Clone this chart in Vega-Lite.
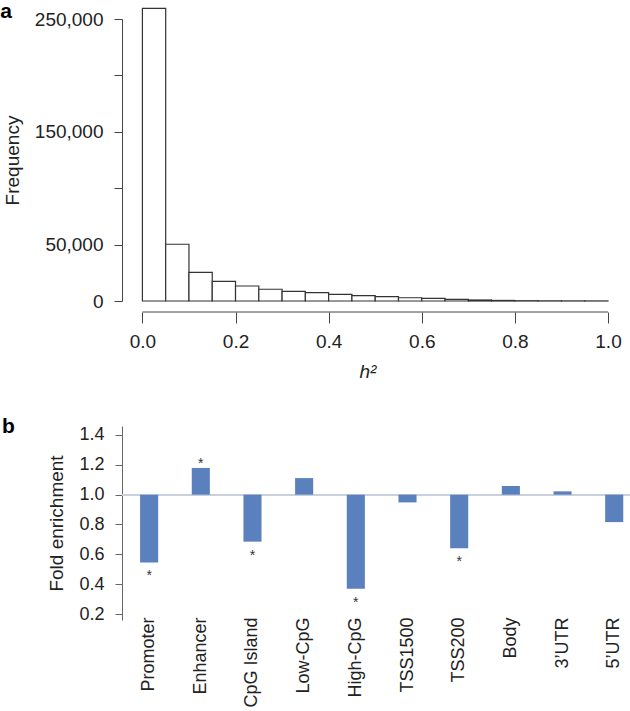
{
  "$schema": "https://vega.github.io/schema/vega-lite/v6.json",
  "background": "white",
  "padding": {"left": 0, "top": 0, "right": 0, "bottom": 0},
  "spacing": 34,
  "config": {
    "font": "Liberation Sans",
    "view": {"stroke": null},
    "axis": {"labelColor": "#222", "titleColor": "#222", "domainColor": "#444", "tickColor": "#444", "grid": false, "titleFontWeight": "normal", "labelFont": "Liberation Sans", "titleFont": "Liberation Sans", "labelOverlap": false}
  },
  "vconcat": [
    {
      "width": 491,
      "height": 282,
      "title": {"text": "a", "anchor": "start", "frame": "bounds", "fontSize": 21, "fontWeight": "bold", "color": "#000", "offset": -14, "dx": -3},
      "data": {"values": [
        {"bin_start": 0.00, "bin_end": 0.05, "count": 259500},
        {"bin_start": 0.05, "bin_end": 0.10, "count": 50300},
        {"bin_start": 0.10, "bin_end": 0.15, "count": 25400},
        {"bin_start": 0.15, "bin_end": 0.20, "count": 17400},
        {"bin_start": 0.20, "bin_end": 0.25, "count": 13300},
        {"bin_start": 0.25, "bin_end": 0.30, "count": 10400},
        {"bin_start": 0.30, "bin_end": 0.35, "count": 8600},
        {"bin_start": 0.35, "bin_end": 0.40, "count": 7400},
        {"bin_start": 0.40, "bin_end": 0.45, "count": 5900},
        {"bin_start": 0.45, "bin_end": 0.50, "count": 4700},
        {"bin_start": 0.50, "bin_end": 0.55, "count": 3800},
        {"bin_start": 0.55, "bin_end": 0.60, "count": 2900},
        {"bin_start": 0.60, "bin_end": 0.65, "count": 2300},
        {"bin_start": 0.65, "bin_end": 0.70, "count": 1500},
        {"bin_start": 0.70, "bin_end": 0.75, "count": 900},
        {"bin_start": 0.75, "bin_end": 0.80, "count": 500},
        {"bin_start": 0.80, "bin_end": 0.85, "count": 250},
        {"bin_start": 0.85, "bin_end": 0.90, "count": 150},
        {"bin_start": 0.90, "bin_end": 0.95, "count": 100},
        {"bin_start": 0.95, "bin_end": 1.00, "count": 60}
      ]},
      "layer": [
        {
          "mark": {"type": "bar", "fill": "white", "stroke": "#333", "strokeWidth": 1.2, "orient": "vertical"},
          "encoding": {
            "x": {"field": "bin_start", "type": "quantitative",
              "scale": {"domain": [-0.0331, 1], "nice": false, "zero": false},
              "axis": {"values": [0, 0.2, 0.4, 0.6, 0.8, 1], "tickCount": 12, "format": ".1f", "domain": false, "offset": 11, "tickSize": 11, "labelPadding": 9, "labelFontSize": 19, "labelOverlap": false, "title": "h²", "titleFontSize": 19, "titleFontStyle": "italic", "titlePadding": 11}},
            "x2": {"field": "bin_end"},
            "y": {"field": "count", "type": "quantitative",
              "scale": {"domain": [0, 250000], "nice": false},
              "axis": {"values": [0, 50000, 100000, 150000, 200000, 250000], "tickCount": 12, "labelExpr": "datum.value == 100000 || datum.value == 200000 ? '' : format(datum.value, ',')", "tickSize": 8, "labelPadding": 11, "labelFontSize": 19, "labelOverlap": false, "title": "Frequency", "titleFontSize": 19, "titlePadding": 12}},
            "y2": {"datum": 0}
          }
        },
        {
          "data": {"values": [{}]},
          "mark": {"type": "rule", "color": "#444", "yOffset": 11},
          "encoding": {"x": {"datum": 0}, "x2": {"datum": 1}, "y": {"datum": 0}}
        }
      ]
    },
    {
      "width": 509,
      "height": 194,
      "title": {"text": "b", "anchor": "start", "frame": "bounds", "fontSize": 21, "fontWeight": "bold", "color": "#000", "offset": -11, "dx": -46},
      "data": {"values": [
        {"region": "Promoter", "value": 0.546, "sig": "*"},
        {"region": "Enhancer", "value": 1.179, "sig": "*"},
        {"region": "CpG Island", "value": 0.685, "sig": "*"},
        {"region": "Low-CpG", "value": 1.111, "sig": ""},
        {"region": "High-CpG", "value": 0.369, "sig": "*"},
        {"region": "TSS1500", "value": 0.948, "sig": ""},
        {"region": "TSS200", "value": 0.64, "sig": "*"},
        {"region": "Body", "value": 1.058, "sig": ""},
        {"region": "3’UTR", "value": 1.022, "sig": ""},
        {"region": "5’UTR", "value": 0.816, "sig": ""}
      ]},
      "layer": [
        {
          "mark": {"type": "rule", "color": "#C8D0DC", "strokeWidth": 1.3},
          "encoding": {"y": {"datum": 1, "type": "quantitative"}}
        },
        {
          "mark": {"type": "bar", "color": "#5B80BE"},
          "encoding": {
            "x": {"field": "region", "type": "nominal", "sort": null,
              "scale": {"paddingInner": 0.65, "paddingOuter": 0.25, "align": 0.7},
              "axis": {"title": null, "domain": false, "ticks": false, "tickSize": 0, "labelAngle": -90, "labelFontSize": 18, "labelPadding": -3}},
            "y": {"field": "value", "type": "quantitative",
              "scale": {"domain": [0.16, 1.46], "nice": false, "zero": false},
              "axis": {"values": [0.2, 0.4, 0.6, 0.8, 1.0, 1.2, 1.4], "tickCount": 14, "format": ".1f", "tickSize": 7, "labelPadding": 11, "labelFontSize": 18, "labelOverlap": false, "title": "Fold enrichment", "titleFontSize": 19, "titlePadding": 12, "domainColor": "#666", "tickColor": "#666"}},
            "y2": {"datum": 1}
          }
        },
        {
          "transform": [{"filter": "datum.sig == '*' && datum.value > 1"}],
          "mark": {"type": "text", "text": "*", "dy": -4, "fontSize": 14, "color": "#333"},
          "encoding": {
            "x": {"field": "region", "type": "nominal", "sort": null},
            "y": {"field": "value", "type": "quantitative"}
          }
        },
        {
          "transform": [{"filter": "datum.sig == '*' && datum.value < 1"}],
          "mark": {"type": "text", "text": "*", "dy": 14, "fontSize": 14, "color": "#333"},
          "encoding": {
            "x": {"field": "region", "type": "nominal", "sort": null},
            "y": {"field": "value", "type": "quantitative"}
          }
        }
      ]
    }
  ]
}
